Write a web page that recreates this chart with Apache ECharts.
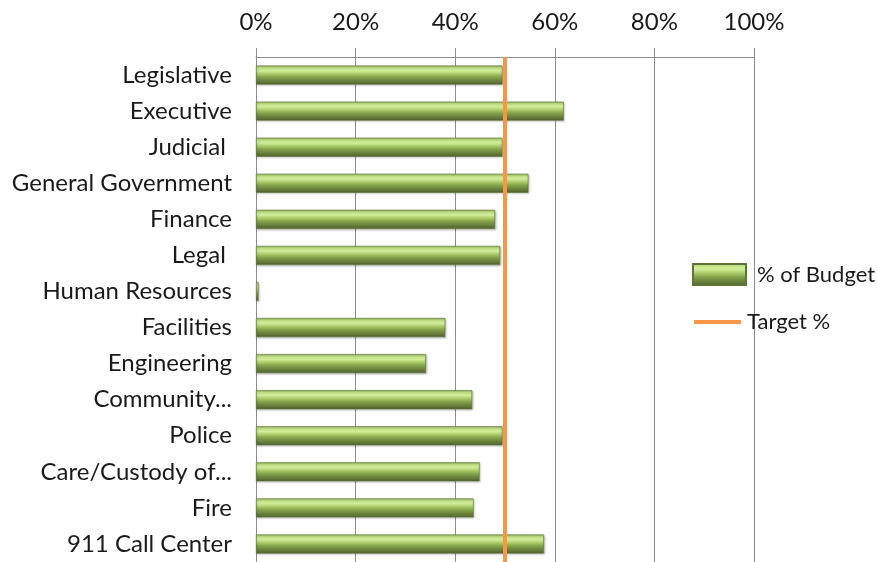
<!DOCTYPE html>
<html>
<head>
<meta charset="utf-8">
<script src="https://cdn.jsdelivr.net/npm/echarts@6/dist/echarts.min.js"></script>
<style>
html,body{margin:0;padding:0;background:#fff;}
#c{width:877px;height:562px;}
</style>
</head>
<body>
<div id="c"></div>
<script>
var categories = ["Legislative","Executive","Judicial ","General Government","Finance","Legal ","Human Resources","Facilities","Engineering","Community...","Police","Care/Custody of...","Fire","911 Call Center"];
var budgetPct = [49.5,61.8,49.5,54.7,48.0,49.0,0.5,38.0,34.1,43.4,49.5,44.9,43.7,57.8];
var targetPct = 50;
var tickLabels = ["0%","20%","40%","60%","80%","100%"];

var FONT = 'Lato';
function grad(){
  return new echarts.graphic.LinearGradient(0,0,0,1,[
    {offset:0, color:'#98b85e'},
    {offset:0.12, color:'#c2e084'},
    {offset:0.28, color:'#d0ec98'},
    {offset:0.45, color:'#a8c866'},
    {offset:0.6, color:'#86a44b'},
    {offset:0.82, color:'#687e3b'},
    {offset:1, color:'#4e612d'}
  ]);
}

var chart = echarts.init(document.getElementById('c'), null, {renderer:'canvas'});
chart.setOption({
  animation:false,
  backgroundColor:'#ffffff',
  grid:{left:256, right:123, top:57, bottom:-5, containLabel:false},
  xAxis:{
    type:'value', position:'top', min:0, max:100, interval:20,
    axisLine:{show:true, lineStyle:{color:'#8c8c8c', width:1}},
    axisTick:{show:true, length:9, lineStyle:{color:'#8c8c8c'}},
    splitLine:{show:true, lineStyle:{color:'#8c8c8c', width:1}},
    axisLabel:{margin:23, fontFamily:FONT, fontSize:24, color:'#1a1a1a',
      formatter:function(v){ return tickLabels[Math.round(v/20)]; }}
  },
  yAxis:{
    type:'category', inverse:true, data:categories,
    axisLine:{show:true, lineStyle:{color:'#8c8c8c', width:1}},
    axisTick:{show:false},
    axisLabel:{margin:24, fontFamily:FONT, fontSize:24, color:'#1a1a1a'}
  },
  legend:[{
    data:[{name:'% of Budget', icon:'rect'}], orient:'vertical', left:687, top:258,
    itemWidth:53, itemHeight:21,
    textStyle:{fontFamily:FONT, fontSize:22, color:'#1a1a1a', padding:[0,0,0,6]}
  },{
    data:[{name:'Target %', icon:'rect'}], orient:'vertical', left:689, top:306,
    itemWidth:47, itemHeight:4,
    textStyle:{fontFamily:FONT, fontSize:22, color:'#1a1a1a', padding:[0,0,0,1]}
  }],
  series:[{
    name:'% of Budget', type:'bar', data:budgetPct, barWidth:19,
    itemStyle:{color:grad(), borderColor:'#5f7535', borderWidth:0.6,
      shadowColor:'rgba(0,0,0,0.25)', shadowBlur:2, shadowOffsetX:1, shadowOffsetY:1}
  },{
    name:'Target %', type:'line', data:[],
    itemStyle:{color:'#F79646'},
    lineStyle:{color:'#F79646', width:4},
    symbol:'none',
    markLine:{silent:true, symbol:['none','none'], label:{show:false},
      lineStyle:{color:'#F79646', width:4, type:'solid'},
      data:[{xAxis:targetPct}]}
  }]
});
</script>
</body>
</html>
